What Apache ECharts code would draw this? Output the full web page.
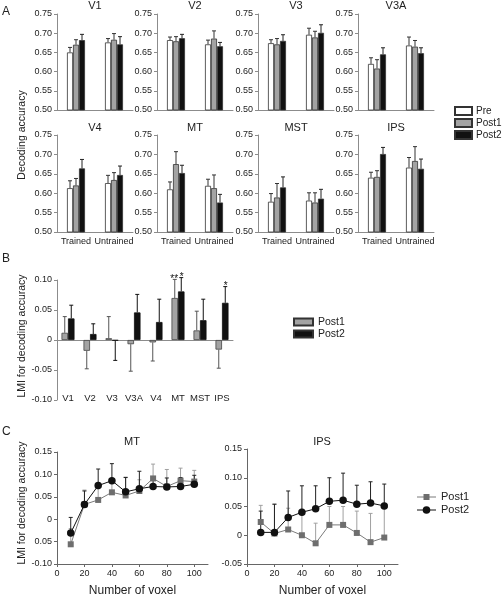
<!DOCTYPE html>
<html><head><meta charset="utf-8">
<script src="https://cdn.jsdelivr.net/npm/echarts@6/dist/echarts.min.js"></script>
<style>html,body{margin:0;padding:0;background:#fff}#c{width:502px;height:598px}</style>
</head><body><div id="c"></div>
<script>
// ---------- Panel A data ----------
const regionsA = ['V1','V2','V3','V3A','V4','MT','MST','IPS'];
const groupsA = ['Trained','Untrained'];
const condNames = ['Pre','Post1','Post2'];
const preMean   = [[0.650,0.676],[0.682,0.671],[0.674,0.696],[0.620,0.668],[0.613,0.626],[0.610,0.619],[0.578,0.581],[0.640,0.666]];
const preSem    = [[0.013,0.010],[0.008,0.011],[0.009,0.017],[0.016,0.022],[0.019,0.020],[0.019,0.017],[0.021,0.020],[0.014,0.026]];
const post1Mean = [[0.670,0.683],[0.679,0.686],[0.671,0.689],[0.608,0.665],[0.620,0.634],[0.675,0.613],[0.589,0.576],[0.642,0.683]];
const post1Sem  = [[0.013,0.016],[0.012,0.020],[0.015,0.016],[0.023,0.016],[0.018,0.019],[0.032,0.034],[0.036,0.025],[0.016,0.037]];
const post2Mean = [[0.682,0.671],[0.687,0.666],[0.680,0.701],[0.645,0.648],[0.664,0.647],[0.652,0.576],[0.615,0.586],[0.701,0.663]];
const post2Sem  = [[0.015,0.020],[0.010,0.010],[0.016,0.021],[0.017,0.014],[0.023,0.023],[0.020,0.021],[0.027,0.024],[0.017,0.025]];
const tickA = ['0.50','0.55','0.60','0.65','0.70','0.75'];

// ---------- Panel B data ----------
const regionsB = ['V1','V2','V3','V3A','V4','MT','MST','IPS'];
const lmiPost1    = [0.012,-0.018,0.003,-0.007,-0.004,0.070,0.016,-0.016];
const lmiPost1Sem = [0.027,0.030,0.036,0.045,0.031,0.031,0.032,0.031];
const lmiPost2    = [0.036,0.010,-0.001,0.046,0.030,0.081,0.033,0.062];
const lmiPost2Sem = [0.022,0.017,0.033,0.030,0.038,0.023,0.035,0.027];
const starsPost1 = ['','','','','','**','',''];
const starsPost2 = ['','','','','','*','','*'];
const tickB = ['-0.10','-0.05','0','0.05','0.10'];

// ---------- Panel C data ----------
const voxels = [10,20,30,40,50,60,70,80,90,100];
const mtPost1     = [-0.056,0.033,0.043,0.060,0.053,0.063,0.091,0.073,0.086,0.084];
const mtPost1Sem  = [0.035,0.032,0.025,0.030,0.041,0.025,0.032,0.038,0.028,0.025];
const mtPost2     = [-0.031,0.033,0.075,0.086,0.061,0.068,0.073,0.072,0.073,0.078];
const mtPost2Sem  = [0.035,0.030,0.037,0.038,0.032,0.039,0.020,0.020,0.020,0.020];
const ipsPost1    = [0.023,0.003,0.010,0.000,-0.014,0.018,0.018,0.004,-0.012,-0.004];
const ipsPost1Sem = [0.029,0.051,0.037,0.045,0.035,0.032,0.032,0.038,0.050,0.056];
const ipsPost2    = [0.005,0.005,0.031,0.040,0.046,0.059,0.061,0.054,0.056,0.051];
const ipsPost2Sem = [0.037,0.049,0.046,0.046,0.040,0.041,0.047,0.033,0.037,0.038];
const tickMT  = ['-0.10','0.05','0','0.05','0.10','0.15'];
const tickIPS = ['-0.05','0','0.05','0.10','0.15'];
const tickVox = [0,20,40,60,80,100];

// ---------- text ----------
const panelLetters = ['A','B','C'];
const yNameA = 'Decoding accuracy';
const yNameLMI = 'LMI for decoding accuracy';
const xNameC = 'Number of voxel';
const titlesC = ['MT','IPS'];

// ---------- style ----------
const FONT = 'Liberation Sans';
const TXT = '#222';
const AX = '#8c8c8c';
const fills = ['#ffffff','#a3a3a3','#111111'];

const grids = [], xAxes = [], yAxes = [], series = [], graphics = [];

function errRender(bw, n, colors, signed, cap) {
  return function (params, api) {
    const cat = api.value(0), m = api.value(1), e = api.value(2), k = api.value(3);
    const dir = signed ? (m < 0 ? -1 : 1) : 1;
    const p0 = api.coord([cat, m]);
    const p1 = api.coord([cat, m + dir * e]);
    const x = p0[0] + (k - (n - 1) / 2) * bw;
    const c = colors[k];
    return {type:'group', children:[
      {type:'line', shape:{x1:x, y1:p0[1], x2:x, y2:p1[1]}, style:{stroke:c, lineWidth:1}},
      {type:'line', shape:{x1:x-cap, y1:p1[1], x2:x+cap, y2:p1[1]}, style:{stroke:c, lineWidth:1}}
    ]};
  };
}
function txt(text, x, y, size, rot, align) {
  graphics.push({type:'text', x:x, y:y, rotation: rot || 0, silent:true,
    style:{text:text, fill:TXT, font: size + 'px "' + FONT + '"', align: align || 'center', verticalAlign:'middle'}});
}

// ---------- Panel A ----------
const lefts = [57,157,258,358];
const meansA = [preMean, post1Mean, post2Mean];
const semsA = [preSem, post1Sem, post2Sem];
regionsA.forEach((reg, i) => {
  const row = i < 4 ? 0 : 1, col = i % 4;
  const top = row ? 135 : 14, h = row ? 97 : 96;
  grids.push({left: lefts[col], top: top, width: 76, height: h});
  xAxes.push({type:'category', gridIndex:i, data:groupsA,
    axisLine:{lineStyle:{color:AX, width:1}}, axisTick:{show:false},
    axisLabel:{show: row === 1, interval:0, hideOverlap:false, fontSize:9, color:TXT, margin:5, fontFamily:FONT}});
  yAxes.push({type:'value', gridIndex:i, min:0.5, max:0.75, interval:0.05,
    axisLine:{show:true, lineStyle:{color:AX, width:1}}, axisTick:{show:true, length:3, lineStyle:{color:AX}},
    splitLine:{show:false},
    axisLabel:{fontSize:9, color:TXT, margin:5, fontFamily:FONT, formatter:(v, idx) => tickA[idx]}});
  condNames.forEach((cn, k) => {
    series.push({type:'bar', name:cn, xAxisIndex:i, yAxisIndex:i, data: meansA[k][i],
      barWidth:6, barGap:'0%', silent:true,
      itemStyle:{color: fills[k], borderColor:'#333', borderWidth:0.8}});
  });
  const ed = [];
  condNames.forEach((cn, k) => groupsA.forEach((g, j) => ed.push([j, meansA[k][i][j], semsA[k][i][j], k])));
  series.push({type:'custom', xAxisIndex:i, yAxisIndex:i, data: ed, silent:true,
    renderItem: errRender(6, 3, ['#333','#333','#222'], false, 2)});
  txt(reg, lefts[col] + 38, row ? 128 : 6, 11);
});

// ---------- Panel B ----------
const gB = grids.length;
grids.push({left:57, top:280, width:176, height:120});
xAxes.push({type:'category', gridIndex:gB, data:regionsB, position:'bottom',
  axisLine:{onZero:true, lineStyle:{color:AX}}, axisTick:{show:false}, axisLabel:{show:false}});
xAxes.push({type:'category', gridIndex:gB, data:regionsB, position:'bottom',
  axisLine:{show:false, onZero:false}, axisTick:{show:false},
  axisLabel:{interval:0, hideOverlap:false, fontSize:9.5, color:TXT, margin:-7, fontFamily:FONT}});
yAxes.push({type:'value', gridIndex:gB, min:-0.1, max:0.1, interval:0.05,
  axisLine:{show:true, lineStyle:{color:AX}}, axisTick:{show:true, length:3, lineStyle:{color:AX}},
  splitLine:{show:false},
  axisLabel:{fontSize:9, color:TXT, margin:5, fontFamily:FONT, formatter:(v, idx) => tickB[idx]}});
series.push({type:'bar', name:'Post1', xAxisIndex:gB, yAxisIndex:gB, data:lmiPost1, barWidth:6.5, barGap:'0%', silent:true,
  itemStyle:{color:fills[1], borderColor:'#444', borderWidth:0.8}});
series.push({type:'bar', name:'Post2', xAxisIndex:gB, yAxisIndex:gB, data:lmiPost2, barWidth:6.5, barGap:'0%', silent:true,
  itemStyle:{color:fills[2], borderColor:'#111', borderWidth:0.8}});
const edB = [];
regionsB.forEach((r, j) => { edB.push([j, lmiPost1[j], lmiPost1Sem[j], 0]); edB.push([j, lmiPost2[j], lmiPost2Sem[j], 1]); });
series.push({type:'custom', xAxisIndex:gB, yAxisIndex:gB, data:edB, silent:true,
  renderItem: errRender(6.5, 2, ['#555','#111'], true, 2)});
const starItems = [];
regionsB.forEach((r, j) => {
  if (starsPost1[j]) starItems.push({v:[j, lmiPost1[j] + lmiPost1Sem[j], 0, 0], t:starsPost1[j]});
  if (starsPost2[j]) starItems.push({v:[j, lmiPost2[j] + lmiPost2Sem[j], 0, 1], t:starsPost2[j]});
});
series.push({type:'custom', xAxisIndex:gB, yAxisIndex:gB, data: starItems.map(s => s.v), silent:true,
  renderItem: function (params, api) {
    const p = api.coord([api.value(0), api.value(1)]);
    const x = p[0] + (api.value(3) - 0.5) * 7.5;
    return {type:'text', x:x, y:p[1] + 5, style:{text: starItems[params.dataIndex].t, fill:'#111',
      font:'10px "' + FONT + '"', align:'center', verticalAlign:'bottom'}};
  }});

// ---------- Panel C ----------
function lineGrid(left, top, height, ymin, ymax, ticks, d1, s1, d2, s2, title) {
  const gi = grids.length;
  grids.push({left:left, top:top, width:151, height:height});
  xAxes.push({type:'value', gridIndex:gi, min:0, max:110,
    axisLine:{onZero:false, lineStyle:{color:'#666'}},
    axisTick:{show:true, length:3, customValues: tickVox, lineStyle:{color:'#666'}},
    splitLine:{show:false},
    axisLabel:{fontSize:9, color:TXT, margin:5, fontFamily:FONT, customValues: tickVox},
    name: xNameC, nameLocation:'middle', nameGap:21, nameTextStyle:{fontSize:12, color:TXT, fontFamily:FONT}});
  const yi = yAxes.length;
  yAxes.push({type:'value', gridIndex:gi, min:ymin, max:ymax, interval:0.05,
    axisLine:{show:true, onZero:false, lineStyle:{color:'#666'}}, axisTick:{show:true, length:3, lineStyle:{color:'#666'}},
    splitLine:{show:false},
    axisLabel:{fontSize:9, color:TXT, margin:5, fontFamily:FONT, formatter:(v, idx) => ticks[idx]}});
  const xi = xAxes.length - 1;
  const errC = (col) => function (params, api) {
    const p0 = api.coord([api.value(0), api.value(1)]);
    const p1 = api.coord([api.value(0), api.value(1) + api.value(2)]);
    return {type:'group', children:[
      {type:'line', shape:{x1:p0[0], y1:p0[1], x2:p0[0], y2:p1[1]}, style:{stroke:col, lineWidth:1}},
      {type:'line', shape:{x1:p0[0]-2, y1:p1[1], x2:p0[0]+2, y2:p1[1]}, style:{stroke:col, lineWidth:1}}]};
  };
  series.push({type:'custom', xAxisIndex:xi, yAxisIndex:yi, silent:true, z:1,
    data: voxels.map((v, i) => [v, d1[i], s1[i]]), renderItem: errC('#a0a0a0')});
  series.push({type:'custom', xAxisIndex:xi, yAxisIndex:yi, silent:true, z:1,
    data: voxels.map((v, i) => [v, d2[i], s2[i]]), renderItem: errC('#222')});
  series.push({type:'line', name:'Post1 C', xAxisIndex:xi, yAxisIndex:yi, silent:true, z:3,
    data: voxels.map((v, i) => [v, d1[i]]), symbol:'rect', symbolSize:6,
    lineStyle:{color:'#7a7a7a', width:1}, itemStyle:{color:'#6e6e6e'}});
  series.push({type:'line', name:'Post2 C', xAxisIndex:xi, yAxisIndex:yi, silent:true, z:4,
    data: voxels.map((v, i) => [v, d2[i]]), symbol:'circle', symbolSize:7.5,
    lineStyle:{color:'#111', width:1}, itemStyle:{color:'#111'}});
  txt(title, left + 75, 442, 11);
}
lineGrid(57, 452, 118, -0.10, 0.15, tickMT, mtPost1, mtPost1Sem, mtPost2, mtPost2Sem, titlesC[0]);
lineGrid(247, 449, 121, -0.05, 0.15, tickIPS, ipsPost1, ipsPost1Sem, ipsPost2, ipsPost2Sem, titlesC[1]);

// ---------- labels ----------
txt(panelLetters[0], 2, 12, 12, 0, 'left');
txt(panelLetters[1], 2, 259, 12, 0, 'left');
txt(panelLetters[2], 2, 432, 12, 0, 'left');
txt(yNameA, 22, 135, 10.5, Math.PI / 2);
txt(yNameLMI, 22, 336, 10.5, Math.PI / 2);
txt(yNameLMI, 22, 503, 10.5, Math.PI / 2);

// C legend (line + marker icons)
graphics.push({type:'line', shape:{x1:417, y1:497, x2:436, y2:497}, style:{stroke:'#7a7a7a', lineWidth:1}});
graphics.push({type:'rect', shape:{x:423.5, y:494, width:6, height:6}, style:{fill:'#6e6e6e'}});
graphics.push({type:'line', shape:{x1:417, y1:510, x2:436, y2:510}, style:{stroke:'#111', lineWidth:1}});
graphics.push({type:'circle', shape:{cx:426.5, cy:510, r:3.8}, style:{fill:'#111'}});
txt('Post1', 441, 497, 11, 0, 'left');
txt('Post2', 441, 510, 11, 0, 'left');

const option = {
  animation:false,
  textStyle:{fontFamily:FONT},
  grid: grids, xAxis: xAxes, yAxis: yAxes, series: series,
  legend: [
    {data:['Pre','Post1','Post2'], left:454, top:105, orient:'vertical', icon:'rect',
     itemWidth:17, itemHeight:8, itemGap:0, padding:0, selectedMode:false,
     textStyle:{fontSize:10, color:TXT, fontFamily:FONT, lineHeight:12, padding:[0,0,0,-1]}},
    {data:['Post1','Post2'], left:293, top:316, orient:'vertical', icon:'rect',
     itemWidth:19, itemHeight:7, itemGap:0, padding:0, selectedMode:false,
     textStyle:{fontSize:10.5, color:TXT, fontFamily:FONT, lineHeight:12}}
  ],
  graphic: graphics
};
const chart = echarts.init(document.getElementById('c'), null, {renderer:'canvas'});
chart.setOption(option);
</script>
</body></html>
